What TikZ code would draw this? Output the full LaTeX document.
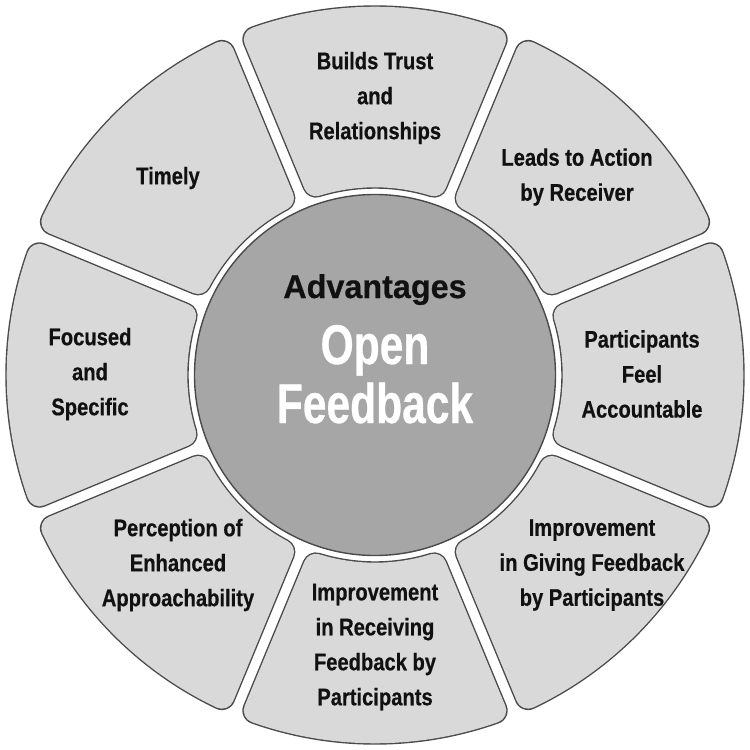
\documentclass[tikz,border=0pt]{standalone}
\usepackage{fontspec}
\setmainfont{Liberation Sans}
\newfontfamily\segfont{Liberation Sans}[FakeStretch=0.84, FakeBold=0.5]
\newfontfamily\advfont{Liberation Sans}[FakeStretch=0.98, FakeBold=0.5]
\newfontfamily\ctrfont{Liberation Sans}[FakeStretch=0.76, FakeBold=0.5]
\definecolor{segfill}{HTML}{D9D9D9}
\definecolor{hubfill}{HTML}{A6A6A6}
\definecolor{outline}{HTML}{4A4A4A}
\definecolor{txt}{HTML}{111111}
\tikzset{
  segedge/.style={draw=outline, line width=27.4pt, line join=round},
  segbody/.style={draw=segfill, fill=segfill, line width=24.6pt, line join=round},
  segtext/.style={font=\segfont\bfseries\fontsize{24}{35}\selectfont, align=center, text=txt},
  hubtext/.style={font=\ctrfont\bfseries\fontsize{56}{60}\selectfont, text=white, anchor=base},
}
\begin{document}
\begin{tikzpicture}[x=1pt,y=1pt]
\useasboundingbox (-375,-375) rectangle (375,375);
\fill[white] (-375,-375) rectangle (375,375);
% segments (rounded via inset path stroked with round joins)
\foreach \c in {90,45,0,-45,-90,-135,180,135} {
  \pgfmathsetmacro{\ai}{asin(18.5/200)}
  \pgfmathsetmacro{\ao}{asin(18.5/356)}
  \pgfmathsetmacro{\ra}{\c-22.5+\ai}
  \pgfmathsetmacro{\rb}{\c-22.5+\ao}
  \pgfmathsetmacro{\la}{\c+22.5-\ai}
  \pgfmathsetmacro{\lb}{\c+22.5-\ao}
  \path[segedge] (\ra:200) -- (\rb:356) arc[start angle=\rb, end angle=\lb, radius=356] -- (\la:200) arc[start angle=\la, end angle=\ra, radius=200] -- cycle;
  \path[segbody] (\ra:200) -- (\rb:356) arc[start angle=\rb, end angle=\lb, radius=356] -- (\la:200) arc[start angle=\la, end angle=\ra, radius=200] -- cycle;
}
% hub
\node[circle, minimum size=361pt, inner sep=0pt, fill=hubfill, draw=outline, line width=1.4pt] (hub) at (0,0) {};
\node[font=\advfont\bfseries\fontsize{33}{36}\selectfont, text=txt, anchor=base] (adv) at (0,77) {Advantages};
\node[hubtext] (open) at (0,11) {Open};
\node[hubtext] (fb) at (0,-48) {Feedback};
% segment labels
\node[segtext] (trust) at (0,277) {Builds Trust\\and\\Relationships};
\node[segtext] (action) at (202,198) {Leads to Action\\by Receiver};
\node[segtext] (account) at (267,1) {Participants\\Feel\\Accountable};
\node[segtext] (giving) at (217,-190) {Improvement\\in Giving Feedback\\by Participants};
\node[segtext] (receiving) at (0,-272) {Improvement\\in Receiving\\Feedback by\\Participants};
\node[segtext] (percep) at (-197,-190) {Perception of\\Enhanced\\Approachability};
\node[segtext] (focused) at (-285,1) {Focused\\and\\Specific};
\node[segtext] (timely) at (-207,197) {Timely};
\end{tikzpicture}
\end{document}
